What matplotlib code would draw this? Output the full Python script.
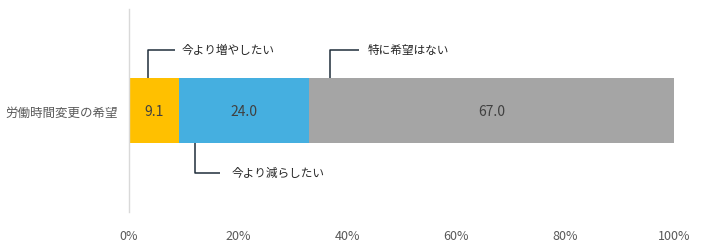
import matplotlib
matplotlib.use("Agg")
import matplotlib.pyplot as plt

plt.rcParams['font.family'] = ['Noto Sans CJK JP', 'DejaVu Sans']

# データ
category = "労働時間変更の希望"
labels = ["今より増やしたい", "今より減らしたい", "特に希望はない"]
values = [9.1, 24.0, 67.0]
colors = ["#FFC000", "#45AFE0", "#A5A5A5"]
tick_labels = ["0%", "20%", "40%", "60%", "80%", "100%"]

# 吹き出し線の位置 (x: 線の位置, x2: 横線の終わり, xt: 文字の位置, y: 高さ)
callouts = [
    dict(x=3.4, x2=8.5, xt=9.6, y=0.60, from_y=0.325),
    dict(x=12.1, x2=16.7, xt=18.8, y=-0.615, from_y=-0.325),
    dict(x=36.8, x2=42.2, xt=43.8, y=0.60, from_y=0.325),
]

fig = plt.figure(figsize=(7.06, 2.51), dpi=100)
ax = fig.add_axes([129 / 706, 1 - 213 / 251, 545 / 706, 203 / 251])

left = 0
for v, c in zip(values, colors):
    ax.barh(0, v, left=left, height=0.65, color=c, edgecolor="none")
    ax.text(left + v / 2, 0, f"{v:.1f}", ha="center", va="center",
            fontsize=10, color="#404040")
    left += v

for lab, co in zip(labels, callouts):
    ax.plot([co["x"], co["x"], co["x2"]], [co["from_y"], co["y"], co["y"]],
            color="#1F2D3A", lw=1.1, solid_capstyle="butt")
    ax.text(co["xt"], co["y"], lab, ha="left", va="center", fontsize=8.4, color="#262626")

ax.set_xlim(0, 100)
ax.set_ylim(-1, 1)
ax.set_xticks([0, 20, 40, 60, 80, 100])
ax.set_xticklabels(tick_labels, fontsize=9, color="#595959")
ax.set_yticks([0])
ax.set_yticklabels([category], fontsize=9, color="#595959")
ax.tick_params(axis="both", length=0)
ax.tick_params(axis="x", pad=12)
ax.tick_params(axis="y", pad=8)
for s in ["top", "right", "bottom"]:
    ax.spines[s].set_visible(False)
ax.spines["left"].set_color("#D9D9D9")
ax.spines["left"].set_linewidth(1)

fig.savefig("out.png", dpi=100)
